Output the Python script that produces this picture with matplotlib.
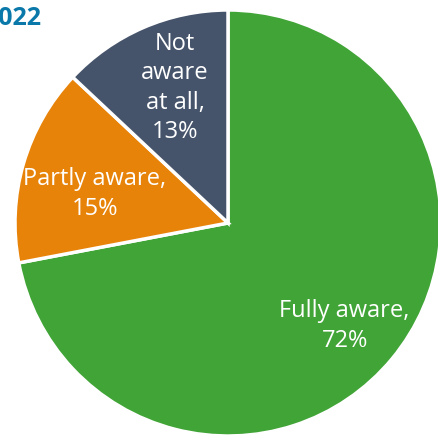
import numpy as np
import matplotlib.pyplot as plt

# Awareness shares, 2022
labels = ['Fully aware,\n72%', 'Partly aware,\n15%', 'Not\naware\nat all,\n13%']
shares = [72, 15, 13]
colors = ['#40A436', '#E8830A', '#46546B']
label_dist = [0.73, 0.64, 0.68]
label_nudge = [-1.8, 3.9, -2.0]  # degrees off the wedge middle

plt.rcParams['font.family'] = ['Open Sans', 'DejaVu Sans']

fig = plt.figure(figsize=(4.38, 4.38), dpi=100)
ax = fig.add_axes([0, 0, 1, 1])

wedges, _ = ax.pie(shares, colors=colors, startangle=90, counterclock=False,
                   wedgeprops=dict(edgecolor='white', linewidth=2.5))

for w, txt, d, n in zip(wedges, labels, label_dist, label_nudge):
    mid = np.deg2rad((w.theta1 + w.theta2) / 2 + n)
    ax.text(d * np.cos(mid), d * np.sin(mid), txt, ha='center', va='center',
            color='white', fontsize=17, linespacing=1.3)

ax.set_xlim(-1.0704, 0.9859)
ax.set_ylim(-1.0094, 1.0469)
ax.set_aspect('auto')
ax.axis('off')

fig.text(-0.036, 0.957, '2022', color='#0A78A8', fontsize=18, fontweight='bold',
         ha='left', va='center')

fig.savefig('out.png', dpi=100)
